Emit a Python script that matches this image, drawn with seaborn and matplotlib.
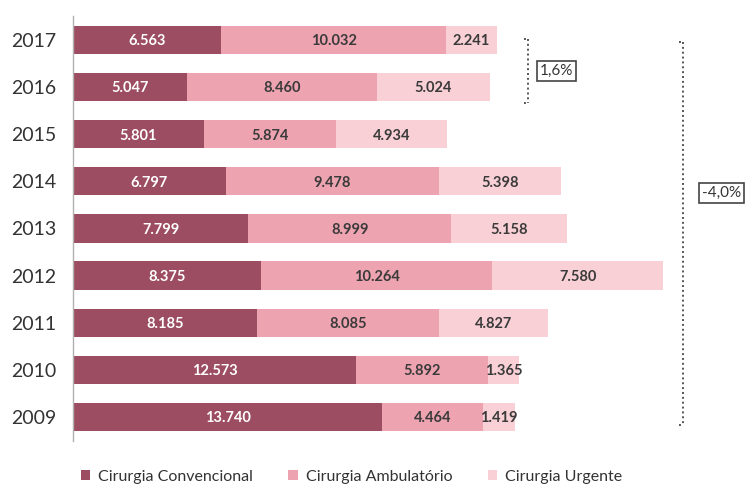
import matplotlib
matplotlib.use("Agg")
import matplotlib.pyplot as plt
from matplotlib.patches import Patch
import seaborn as sns
import pandas as pd
import numpy as np

years = ["2017", "2016", "2015", "2014", "2013", "2012", "2011", "2010", "2009"]
convencional = [6563, 5047, 5801, 6797, 7799, 8375, 8185, 12573, 13740]
ambulatorio = [10032, 8460, 5874, 9478, 8999, 10264, 8085, 5892, 4464]
urgente = [2241, 5024, 4934, 5398, 5158, 7580, 4827, 1365, 1419]
series_names = ["Cirurgia Convencional", "Cirurgia Ambulatório", "Cirurgia Urgente"]
colors = ["#9d4d61", "#eda3b0", "#f8d0d6"]

df = pd.DataFrame({"ano": years, "conv": convencional, "amb": ambulatorio, "urg": urgente})
df["c1"] = df["conv"]
df["c2"] = df["conv"] + df["amb"]
df["c3"] = df["c2"] + df["urg"]

sns.set_theme(style="white")
plt.rcParams["font.family"] = ["Lato", "DejaVu Sans"]

fig = plt.figure(figsize=(7.48, 4.87), dpi=100)
ax = fig.add_axes([73 / 748, 1 - 440.5 / 487, 1 - 73 / 748, (440.5 - 16.4) / 487])

# stacked bars: draw cumulative totals from the longest down
for col, color in zip(["c3", "c2", "c1"], colors[::-1]):
    sns.barplot(data=df, x=col, y="ano", orient="h", color=color, width=0.6,
                saturation=1, ax=ax, order=years, edgecolor="none", linewidth=0)

ax.set_xlim(0, 30000)
ax.set_ylim(8.5, -0.5)
ax.set_xlabel("")
ax.set_ylabel("")
ax.set_xticks([])
for s in ["top", "right", "bottom"]:
    ax.spines[s].set_visible(False)
ax.spines["left"].set_color("#b0b0b0")
ax.spines["left"].set_linewidth(1)
ax.tick_params(axis="y", length=0, pad=12, labelsize=14, labelcolor="#333333")

def fmt(v):
    return f"{v:,}".replace(",", ".")

for i, row in df.iterrows():
    segs = [(0, row["conv"]), (row["c1"], row["amb"]), (row["c2"], row["urg"])]
    for k, (start, w) in enumerate(segs):
        xc = start + w / 2
        ax.text(xc, i + 0.03, fmt(int(w)), ha="center", va="center", fontsize=10.5,
                fontweight="bold", color="white" if k == 0 else "#3a3a3a")

# dotted brackets with percentage boxes
def bracket(x0, y0, y1, label, lx, ly):
    fig.lines.append(plt.Line2D([x0 / 748, x0 / 748], [1 - y0 / 487, 1 - y1 / 487],
                                transform=fig.transFigure, color="#555555",
                                linestyle=(0, (1, 1.5)), linewidth=1.4))
    for y in (y0, y1):
        fig.lines.append(plt.Line2D([(x0 - 4) / 748, x0 / 748], [1 - y / 487, 1 - y / 487],
                                    transform=fig.transFigure, color="#555555",
                                    linestyle=(0, (1, 1.5)), linewidth=1.4))
    fig.text(lx / 748, 1 - ly / 487, label, ha="left", va="center", fontsize=11,
             color="#333333",
             bbox=dict(boxstyle="square,pad=0.2", facecolor="white", edgecolor="#444444",
                       linewidth=1.2))

bracket(528, 39, 103, "1,6%", 540, 71)
bracket(683, 42, 425, "-4,0%", 702, 193)

handles = [Patch(facecolor=c, edgecolor="none") for c in colors]
fig.legend(handles, series_names, loc="center", bbox_to_anchor=(0.47, 1 - 477 / 487),
           ncol=3, frameon=False, fontsize=11.5, handlelength=0.6, handleheight=0.6,
           handletextpad=0.5, columnspacing=2.2, labelcolor="#333333")

fig.savefig("out.png", dpi=100)
